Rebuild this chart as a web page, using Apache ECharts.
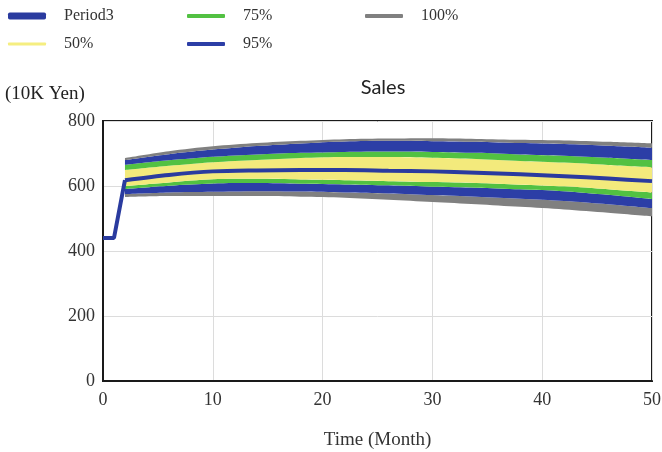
<!DOCTYPE html>
<html>
<head>
<meta charset="utf-8">
<script src="https://cdn.jsdelivr.net/npm/echarts@6/dist/echarts.min.js"></script>
<style>
  html, body { margin: 0; padding: 0; background: #fff; }
  #chart { width: 662px; height: 452px; }
</style>
</head>
<body>
<div id="chart"></div>
<script>
// Sales sensitivity run: base run (Period3) plus confidence bands
const bandTimes = [2, 6, 10, 14, 18, 22, 26, 30, 34, 38, 42, 46, 50];
const maxVals   = [686, 707, 722, 732, 739, 744, 746, 747, 745, 742, 740, 736, 731];
const p95Hi     = [680, 698, 712, 723, 731, 737, 739, 738, 736, 732, 729, 724, 718];
const p75Hi     = [665, 679, 690, 697, 702, 705, 706, 705, 702, 697, 693, 687, 680];
const p50Hi     = [649, 662, 673, 680, 686, 689, 689, 687, 683, 677, 672, 665, 658];
const p50Lo     = [600, 611, 621, 622, 620, 618, 615, 612, 609, 604, 599, 590, 580];
const p75Lo     = [591, 601, 608, 609, 607, 605, 602, 598, 595, 590, 584, 573, 560];
const p95Lo     = [575, 580, 582, 584, 583, 580, 577, 572, 567, 561, 554, 544, 532];
const minVals   = [566, 569, 569, 569, 567, 564, 558, 551, 544, 536, 528, 518, 507];

const baseTimes = [0, 1, 2, 6, 10, 14, 18, 22, 26, 30, 34, 38, 42, 46, 50];
const baseVals  = [440, 440, 618, 634, 645, 648, 649, 649, 647, 645, 641, 636, 630, 623, 615];

const xTicks = [0, 10, 20, 30, 40, 50];
const yTicks = [0, 200, 400, 600, 800];

const C_GREY = '#808080', C_BLUE = '#2c3ea6', C_GREEN = '#52c142',
      C_YELLOW = '#f3ea7c', C_LINE = '#2a3b9f';

function diff(a, b) { return a.map((v, i) => v - b[i]); }
// value first, time second, so the value column is the one that stacks
function stackPairs(ts, vs) { return ts.map((t, i) => [vs[i], t]); }
function pairs(ts, vs) { return ts.map((t, i) => [t, vs[i]]); }

// stacked layers from the bottom edge upward
const layers = [
  { name: '100%', color: 'transparent', vals: minVals, hidden: true },
  { name: '100%', color: C_GREY,   vals: diff(p95Lo, minVals) },
  { name: '95%',  color: C_BLUE,   vals: diff(p75Lo, p95Lo) },
  { name: '75%',  color: C_GREEN,  vals: diff(p50Lo, p75Lo) },
  { name: '50%',  color: C_YELLOW, vals: diff(p50Hi, p50Lo) },
  { name: '75%',  color: C_GREEN,  vals: diff(p75Hi, p50Hi) },
  { name: '95%',  color: C_BLUE,   vals: diff(p95Hi, p75Hi) },
  { name: '100%', color: C_GREY,   vals: diff(maxVals, p95Hi) }
];

const series = layers.map(l => ({
  name: l.name,
  type: 'line',
  stack: 'band',
  smooth: 0.3,
  showSymbol: false,
  symbol: 'none',
  silent: true,
  encode: { x: 1, y: 0 },
  data: stackPairs(bandTimes, l.vals),
  lineStyle: { width: 0, color: l.color },
  itemStyle: { color: l.color },
  areaStyle: l.hidden ? { color: 'transparent', opacity: 0 } : { color: l.color, opacity: 1 }
}));

// base run: straight ramp, then smooth curve
series.push({
  name: 'Period3', type: 'line', showSymbol: false, symbol: 'none', silent: true,
  data: pairs(baseTimes.slice(0, 3), baseVals.slice(0, 3)),
  lineStyle: { width: 4, color: C_LINE }, itemStyle: { color: C_LINE }, z: 5
});
series.push({
  name: 'Period3', type: 'line', showSymbol: false, symbol: 'none', silent: true,
  smooth: 0.3,
  data: pairs(baseTimes.slice(2), baseVals.slice(2)),
  lineStyle: { width: 4, color: C_LINE }, itemStyle: { color: C_LINE }, z: 5
});

const serif = 'Liberation Serif, Times New Roman, serif';

function legendItem(name, left, top, color, h) {
  return {
    left: left, top: top, orient: 'vertical',
    data: [{ name: name, icon: 'roundRect' }],
    itemWidth: 38, itemHeight: h,
    itemStyle: { color: color, borderWidth: 0 },
    selectedMode: false,
    textStyle: { fontFamily: serif, fontSize: 16, color: '#333', padding: [0, 0, 0, 13] }
  };
}

const chart = echarts.init(document.getElementById('chart'), null, { renderer: 'canvas' });
chart.setOption({
  animation: false,
  backgroundColor: '#fff',
  legend: [
    legendItem('Period3', 3, 3, C_LINE, 7),
    legendItem('50%', 3, 31, '#f5ee80', 3),
    legendItem('75%', 182, 3, C_GREEN, 4),
    legendItem('95%', 182, 31, C_BLUE, 4),
    legendItem('100%', 360, 3, C_GREY, 4)
  ],
  grid: {
    left: 103, right: 10, top: 121, bottom: 71,
    outerBoundsMode: 'none', containLabel: false,
    show: true, borderColor: '#1a1a1a', borderWidth: 2, backgroundColor: 'transparent'
  },
  graphic: [
    { type: 'text', left: 5, top: 85,
      style: { text: '(10K Yen)', font: '19px ' + serif, fill: '#222' } },
    { type: 'text', x: 383, y: 88,
      style: { text: 'Sales', font: '20px Lato, "Noto Sans", sans-serif', fill: '#222',
               textAlign: 'center', textVerticalAlign: 'middle' } }
  ],
  xAxis: {
    type: 'value', min: xTicks[0], max: xTicks[xTicks.length - 1], interval: 10,
    name: 'Time (Month)', nameLocation: 'middle', nameGap: 50,
    nameTextStyle: { fontFamily: serif, fontSize: 19, color: '#333' },
    axisLine: { show: true, onZero: false, lineStyle: { color: '#1a1a1a', width: 2 } },
    axisTick: { show: false },
    axisLabel: { fontFamily: serif, fontSize: 18, color: '#333', margin: 10 },
    splitLine: { show: true, lineStyle: { color: '#dcdcdc', width: 1 } }
  },
  yAxis: {
    type: 'value', min: yTicks[0], max: yTicks[yTicks.length - 1], interval: 200,
    axisLine: { show: true, lineStyle: { color: '#1a1a1a', width: 2 } },
    axisTick: { show: false },
    axisLabel: { fontFamily: serif, fontSize: 18, color: '#333', margin: 8 },
    splitLine: { show: true, lineStyle: { color: '#dcdcdc', width: 1 } }
  },
  series: series
});
</script>
</body>
</html>
